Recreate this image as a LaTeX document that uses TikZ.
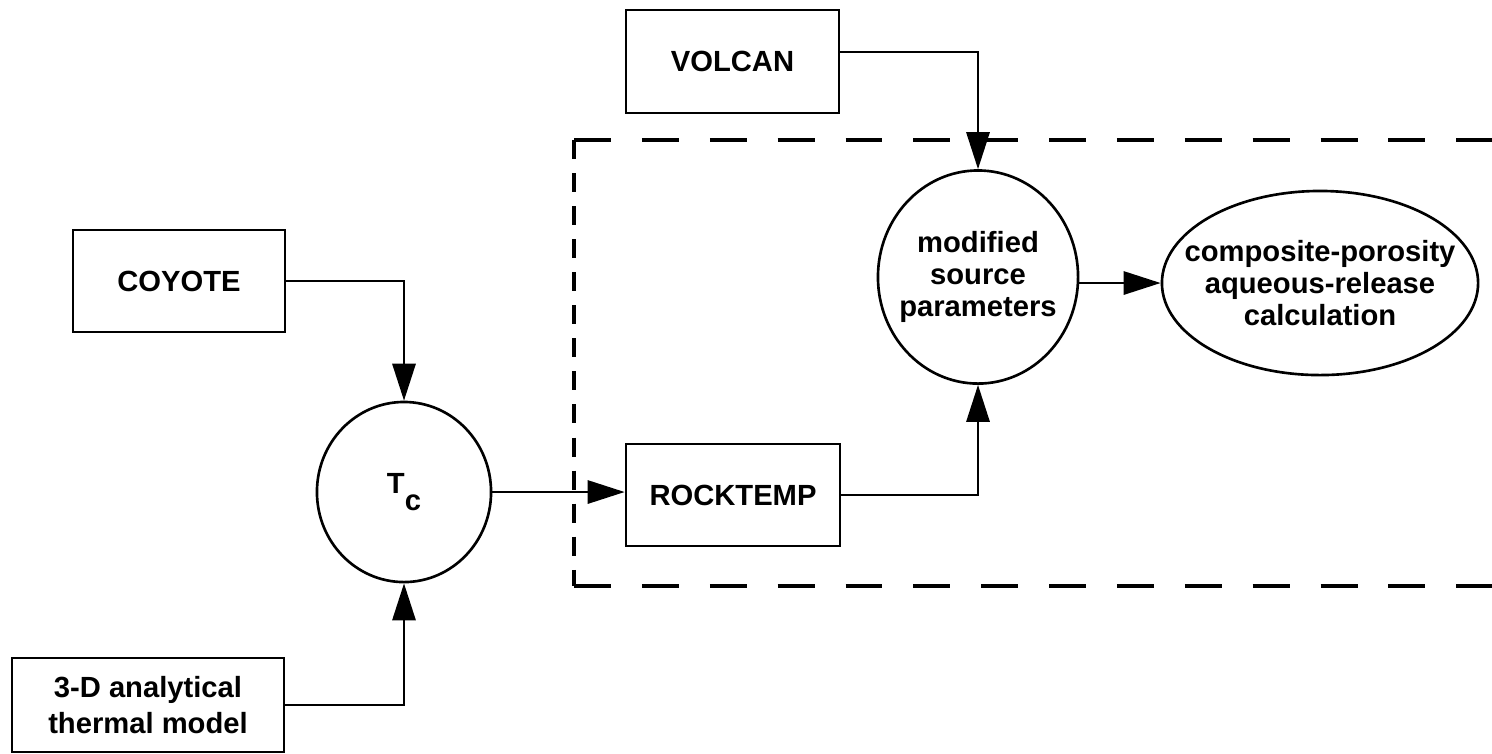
\documentclass[tikz,border=0pt]{standalone}
\usepackage{fontspec}
\setmainfont{Liberation Sans}
\usetikzlibrary{shapes.geometric,arrows.meta}
\begin{document}
\begin{tikzpicture}[x=0.01cm,y=-0.01cm,
  font=\fontsize{8.3}{9}\selectfont\bfseries,
  box/.style={draw,line width=0.75pt,inner sep=0pt,align=center},
  circ/.style={draw,ellipse,line width=0.75pt,inner sep=0pt},
  inner/.style={align=center,inner sep=0pt},
  conn/.style={line width=0.65pt},
  arr/.style={conn,-{Triangle[length=10.5pt,width=6.6pt]}},
  hdash/.style={line width=0.9pt,dash pattern=on 10.5pt off 8.8pt},
  vdash/.style={line width=0.9pt,dash pattern=on 5.4pt off 4pt}
]
\useasboundingbox (0,0) rectangle (1492,753);

\node[box,minimum width=2.13cm,minimum height=1.03cm] (volcan) at (732.5,61.5) {VOLCAN};
\node[box,minimum width=2.12cm,minimum height=1.02cm] (coyote) at (179,281) {COYOTE};
\node[box,minimum width=2.72cm,minimum height=0.94cm,font=\fontsize{8.3}{10}\selectfont\bfseries] (model) at (148,705) {3-D analytical\\thermal model};
\node[circ,minimum width=1.74cm,minimum height=1.80cm,label={[inner]center:T\raisebox{-4.9pt}{c}}] (tc) at (404,492) {};
\node[box,minimum width=2.14cm,minimum height=1.02cm] (rock) at (733,495) {ROCKTEMP};
\node[circ,minimum width=2.0cm,minimum height=2.13cm,label={[inner]center:modified\\source\\parameters}] (mod) at (978,277) {};
\node[circ,minimum width=3.16cm,minimum height=1.84cm,label={[inner]center:composite-porosity\\aqueous-release\\calculation}] (calc) at (1320,283) {};

\coordinate (dtr) at (1492,140);
\coordinate (dtl) at (574,140);
\coordinate (dbl) at (574,586);
\coordinate (dbr) at (1492,586);
\draw[hdash] (dtl) -- (dtr);
\draw[vdash] (dtl) -- (dbl);
\draw[hdash] (dbl) -- (dbr);

\draw[arr] ([yshift=0.095cm]volcan.east) -| (mod.north);
\draw[arr] (coyote.east) -| (tc.north);
\draw[arr] (model.east) -| (tc.south);
\draw[arr] (tc.east) -- (tc.east -| rock.west);
\draw[arr] (rock.east) -| (mod.south);
\draw[arr] (mod.east |- calc.west) -- (calc.west);
\end{tikzpicture}
\end{document}
